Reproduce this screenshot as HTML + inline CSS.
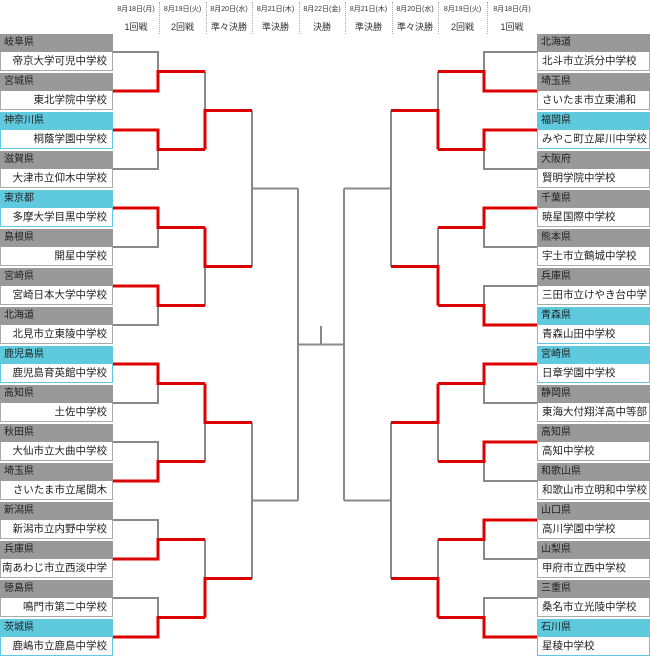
<!DOCTYPE html>
<html><head><meta charset="utf-8">
<style>
body{margin:0;width:650px;height:659px;background:#fff;position:relative;overflow:hidden;font-family:"Liberation Sans","Noto Sans CJK JP",sans-serif;color:#222}
.t{position:absolute;width:113px}
.h{height:18px;background:#999;font-size:10px;line-height:18px;padding-left:4px;box-sizing:border-box;color:#222}
.n{height:19px;border:1px solid #aaa;border-top:none;box-sizing:border-box;font-size:10.5px;line-height:18px;background:#fff;white-space:nowrap;overflow:hidden}
.c .h{background:#5fc9de}
.c .n{border-color:#5fc9de}
.L .n{text-align:right;padding-right:5px}
.R .n{text-align:left;padding-left:4px}
.hd{position:absolute;text-align:center;color:#333}
.d{font-size:7px;top:4px}
.r{font-size:9px;top:20px}
.sep{position:absolute;top:2px;height:32px;border-left:1px dotted #aaa}
</style></head><body>
<div class="sep" style="left:159px"></div>
<div class="sep" style="left:206px"></div>
<div class="sep" style="left:252px"></div>
<div class="sep" style="left:299px"></div>
<div class="sep" style="left:345px"></div>
<div class="sep" style="left:392px"></div>
<div class="sep" style="left:438px"></div>
<div class="sep" style="left:487px"></div>

<div class="hd d" style="left:113px;width:46px">8月18日(月)</div><div class="hd r" style="left:113px;width:46px">1回戦</div>
<div class="hd d" style="left:159px;width:47px">8月19日(火)</div><div class="hd r" style="left:159px;width:47px">2回戦</div>
<div class="hd d" style="left:206px;width:46px">8月20日(水)</div><div class="hd r" style="left:206px;width:46px">準々決勝</div>
<div class="hd d" style="left:252px;width:47px">8月21日(木)</div><div class="hd r" style="left:252px;width:47px">準決勝</div>
<div class="hd d" style="left:299px;width:46px">8月22日(金)</div><div class="hd r" style="left:299px;width:46px">決勝</div>
<div class="hd d" style="left:345px;width:47px">8月21日(木)</div><div class="hd r" style="left:345px;width:47px">準決勝</div>
<div class="hd d" style="left:392px;width:46px">8月20日(水)</div><div class="hd r" style="left:392px;width:46px">準々決勝</div>
<div class="hd d" style="left:438px;width:49px">8月19日(火)</div><div class="hd r" style="left:438px;width:49px">2回戦</div>
<div class="hd d" style="left:487px;width:50px">8月18日(月)</div><div class="hd r" style="left:487px;width:50px">1回戦</div>

<svg width="650" height="659" style="position:absolute;left:0;top:0" fill="none">
<g stroke="#888" stroke-width="2">
<path d="M113 52H158V91H113M158 71.5H205M113 130H158V169H113M158 149.5H205M113 208H158V247H113M158 227.5H205M113 286H158V325H113M158 305.5H205M113 364H158V403H113M158 383.5H205M113 442H158V481H113M158 461.5H205M113 520H158V559H113M158 539.5H205M113 598H158V637H113M158 617.5H205"/>
<path d="M205 71.5V149.5M205 110.5H252M205 227.5V305.5M205 266.5H252M205 383.5V461.5M205 422.5H252M205 539.5V617.5M205 578.5H252"/>
<path d="M252 110.5V266.5M252 188.5H298M252 422.5V578.5M252 500.5H298M298 188.5V500.5M298 344.5H344M321 344.5V326"/>
<path d="M537 52H484V91H537M484 71.5H438M537 130H484V169H537M484 149.5H438M537 208H484V247H537M484 227.5H438M537 286H484V325H537M484 305.5H438M537 364H484V403H537M484 383.5H438M537 442H484V481H537M484 461.5H438M537 520H484V559H537M484 539.5H438M537 598H484V637H537M484 617.5H438"/>
<path d="M438 71.5V149.5M438 110.5H391M438 227.5V305.5M438 266.5H391M438 383.5V461.5M438 422.5H391M438 539.5V617.5M438 578.5H391"/>
<path d="M391 110.5V266.5M391 188.5H344M391 422.5V578.5M391 500.5H344M344 188.5V500.5"/>
</g>
<g stroke="#dd0000" stroke-width="3" stroke-linejoin="miter">
<path d="M113 91H158V71.5H205M113 130H158V149.5H205M205 149.5V110.5H252"/>
<path d="M113 208H158V227.5H205M113 286H158V305.5H205M205 227.5V266.5H252"/>
<path d="M113 364H158V383.5H205M113 481H158V461.5H205M205 383.5V422.5H252"/>
<path d="M113 559H158V539.5H205M113 637H158V617.5H205M205 617.5V578.5H252"/>
<path d="M537 91H484V71.5H438M537 130H484V149.5H438M438 149.5V110.5H391"/>
<path d="M537 208H484V227.5H438M537 325H484V305.5H438M438 305.5V266.5H391"/>
<path d="M537 364H484V383.5H438M537 442H484V461.5H438M438 383.5V422.5H391"/>
<path d="M537 520H484V539.5H438M537 637H484V617.5H438M438 617.5V578.5H391"/>
</g>
</svg>

<div class="t L" style="left:0;top:34px"><div class="h">岐阜県</div><div class="n">帝京大学可児中学校</div></div>
<div class="t L" style="left:0;top:73px"><div class="h">宮城県</div><div class="n">東北学院中学校</div></div>
<div class="t L c" style="left:0;top:112px"><div class="h">神奈川県</div><div class="n">桐蔭学園中学校</div></div>
<div class="t L" style="left:0;top:151px"><div class="h">滋賀県</div><div class="n">大津市立仰木中学校</div></div>
<div class="t L c" style="left:0;top:190px"><div class="h">東京都</div><div class="n">多摩大学目黒中学校</div></div>
<div class="t L" style="left:0;top:229px"><div class="h">島根県</div><div class="n">開星中学校</div></div>
<div class="t L" style="left:0;top:268px"><div class="h">宮崎県</div><div class="n">宮崎日本大学中学校</div></div>
<div class="t L" style="left:0;top:307px"><div class="h">北海道</div><div class="n">北見市立東陵中学校</div></div>
<div class="t L c" style="left:0;top:346px"><div class="h">鹿児島県</div><div class="n">鹿児島育英館中学校</div></div>
<div class="t L" style="left:0;top:385px"><div class="h">高知県</div><div class="n">土佐中学校</div></div>
<div class="t L" style="left:0;top:424px"><div class="h">秋田県</div><div class="n">大仙市立大曲中学校</div></div>
<div class="t L" style="left:0;top:463px"><div class="h">埼玉県</div><div class="n">さいたま市立尾間木</div></div>
<div class="t L" style="left:0;top:502px"><div class="h">新潟県</div><div class="n">新潟市立内野中学校</div></div>
<div class="t L" style="left:0;top:541px"><div class="h">兵庫県</div><div class="n">南あわじ市立西淡中学</div></div>
<div class="t L" style="left:0;top:580px"><div class="h">徳島県</div><div class="n">鳴門市第二中学校</div></div>
<div class="t L c" style="left:0;top:619px"><div class="h">茨城県</div><div class="n">鹿嶋市立鹿島中学校</div></div>

<div class="t R" style="left:537px;top:34px"><div class="h">北海道</div><div class="n">北斗市立浜分中学校</div></div>
<div class="t R" style="left:537px;top:73px"><div class="h">埼玉県</div><div class="n">さいたま市立東浦和</div></div>
<div class="t R c" style="left:537px;top:112px"><div class="h">福岡県</div><div class="n">みやこ町立犀川中学校</div></div>
<div class="t R" style="left:537px;top:151px"><div class="h">大阪府</div><div class="n">賢明学院中学校</div></div>
<div class="t R" style="left:537px;top:190px"><div class="h">千葉県</div><div class="n">暁星国際中学校</div></div>
<div class="t R" style="left:537px;top:229px"><div class="h">熊本県</div><div class="n">宇土市立鶴城中学校</div></div>
<div class="t R" style="left:537px;top:268px"><div class="h">兵庫県</div><div class="n">三田市立けやき台中学</div></div>
<div class="t R c" style="left:537px;top:307px"><div class="h">青森県</div><div class="n">青森山田中学校</div></div>
<div class="t R c" style="left:537px;top:346px"><div class="h">宮崎県</div><div class="n">日章学園中学校</div></div>
<div class="t R" style="left:537px;top:385px"><div class="h">静岡県</div><div class="n">東海大付翔洋高中等部</div></div>
<div class="t R" style="left:537px;top:424px"><div class="h">高知県</div><div class="n">高知中学校</div></div>
<div class="t R" style="left:537px;top:463px"><div class="h">和歌山県</div><div class="n">和歌山市立明和中学校</div></div>
<div class="t R" style="left:537px;top:502px"><div class="h">山口県</div><div class="n">高川学園中学校</div></div>
<div class="t R" style="left:537px;top:541px"><div class="h">山梨県</div><div class="n">甲府市立西中学校</div></div>
<div class="t R" style="left:537px;top:580px"><div class="h">三重県</div><div class="n">桑名市立光陵中学校</div></div>
<div class="t R c" style="left:537px;top:619px"><div class="h">石川県</div><div class="n">星稜中学校</div></div>
</body></html>
